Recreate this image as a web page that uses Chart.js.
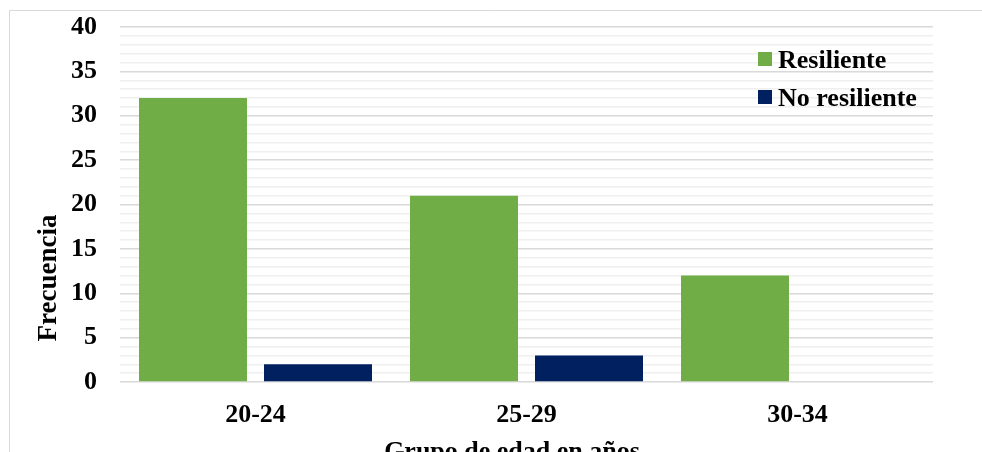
<!DOCTYPE html>
<html>
<head>
<meta charset="utf-8">
<script src="https://cdn.jsdelivr.net/npm/chart.js@4.4.0/dist/chart.umd.min.js"></script>
<style>
  html, body { margin: 0; padding: 0; background: #fff; }
  #wrap { width: 982px; height: 452px; position: relative; }
</style>
</head>
<body>
<div id="wrap"><canvas id="edadChart"></canvas></div>
<script>
// datos
const categorias = ['20-24', '25-29', '30-34'];
const resiliente = [32, 21, 12];
const noResiliente = [2, 3, 0];
const etiquetasY = [0, 5, 10, 15, 20, 25, 30, 35, 40];

const FUENTE = '"Liberation Serif", "Times New Roman", serif';

// marco, leyenda y titulos de ejes
const extras = {
  id: 'extras',
  afterDraw(chart) {
    const c = chart.ctx;
    c.save();
    c.strokeStyle = '#d9d9d9';
    c.lineWidth = 1;
    c.beginPath();
    c.moveTo(9.5, 452);
    c.lineTo(9.5, 10.5);
    c.lineTo(982, 10.5);
    c.stroke();

    c.font = 'bold 26px ' + FUENTE;
    c.fillStyle = '#000';
    c.textAlign = 'left';
    c.textBaseline = 'alphabetic';
    chart.data.datasets.forEach(function (ds, i) {
      const y = 52 + i * 38;
      c.fillStyle = ds.backgroundColor;
      c.fillRect(758, y, 14, 14);
      c.fillStyle = '#000';
      c.fillText(ds.label, 778, y + 15.5);
    });

    c.textAlign = 'center';
    c.fillText('Grupo de edad en años', 512, 459);

    c.translate(56, 278);
    c.rotate(-Math.PI / 2);
    c.font = 'bold 27px ' + FUENTE;
    c.fillText('Frecuencia', 0, 0);
    c.restore();
  }
};

new Chart(document.getElementById('edadChart'), {
  type: 'bar',
  data: {
    labels: categorias,
    datasets: [
      { label: 'Resiliente', data: resiliente, backgroundColor: '#70ad47' },
      { label: 'No resiliente', data: noResiliente, backgroundColor: '#002060' }
    ]
  },
  options: {
    responsive: true,
    maintainAspectRatio: false,
    animation: false,
    layout: { padding: { left: 0, right: 49, top: 27, bottom: 0 } },
    datasets: { bar: { categoryPercentage: 0.9225, barPercentage: 0.864 } },
    plugins: { legend: { display: false }, tooltip: { enabled: false } },
    scales: {
      x: {
        grid: { display: false },
        border: { display: false },
        ticks: { color: '#000', padding: 10, font: { family: FUENTE, size: 26, weight: 'bold' } },
        afterFit: function (s) { s.height = 70; }
      },
      y: {
        min: 0,
        max: 40,
        border: { display: false },
        grid: {
          drawTicks: false,
          lineWidth: 1.5,
          color: function (ctx) { return etiquetasY.includes(ctx.tick.value) ? '#d9d9d9' : '#efefef'; }
        },
        ticks: {
          stepSize: 1,
          autoSkip: false,
          padding: 23,
          color: '#000',
          font: { family: FUENTE, size: 26, weight: 'bold' },
          callback: function (v) { return etiquetasY.includes(v) ? v : ''; }
        },
        afterFit: function (s) {
          s.width = 120;
          s.paddingTop = 0;
          s.paddingBottom = 0;
        }
      }
    }
  },
  plugins: [extras]
});
</script>
</body>
</html>
